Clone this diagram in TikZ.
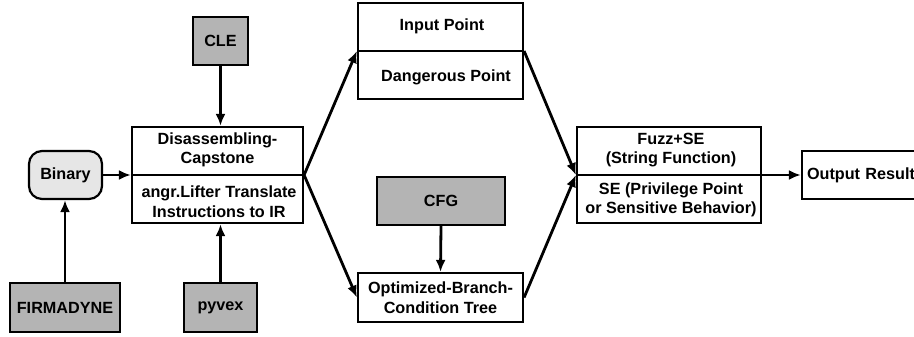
\documentclass[tikz,border=0pt]{standalone}
\usepackage{fontspec}
\setmainfont{Liberation Sans}
\usetikzlibrary{arrows.meta}
\definecolor{boxgray}{RGB}{180,180,180}
\definecolor{lightfill}{RGB}{230,230,230}
\begin{document}
\begin{tikzpicture}[x=1pt,y=-1pt,
  every node/.style={font=\fontsize{16.2}{19.5}\selectfont\bfseries, align=center, inner sep=0pt},
  plainbox/.style={draw, line width=2.2pt, fill=white},
  graybox/.style={draw, line width=2.2pt, fill=boxgray},
  txt/.style={},
  divider/.style={line width=2.2pt},
  arr/.style={line width=2.8pt, -{Latex[length=12pt,width=10pt]}}
]
\useasboundingbox (0,0) rectangle (914,337);
% boxes
\node[graybox, minimum width=55pt, minimum height=48pt] (cle) at (220.5,41) {CLE};
\node[plainbox, minimum width=171pt, minimum height=96pt] (dis) at (217.5,175) {};
\draw[divider] (dis.west) -- (dis.east);
\node[txt] (disA) at (217.5,150) {Disassembling-\\Capstone};
\node[txt] (disB) at (219,201.5) {angr.Lifter Translate\\Instructions to IR};
\node[draw, line width=2.2pt, fill=lightfill, rounded corners=13pt, minimum width=73pt, minimum height=48pt] (bin) at (65.5,175) {Binary};
\node[graybox, minimum width=110pt, minimum height=49pt] (firm) at (65,307.5) {FIRMADYNE};
\node[graybox, minimum width=73pt, minimum height=49pt] (pyvex) at (220.5,307.5) {pyvex};
\node[plainbox, minimum width=165pt, minimum height=96pt] (inp) at (440.5,51) {};
\draw[divider] (inp.west) -- (inp.east);
\node[txt] (inpA) at (442,26) {Input Point};
\node[txt] (inpB) at (446,77) {Dangerous Point};
\node[graybox, minimum width=128pt, minimum height=48pt] (cfg) at (441,201) {CFG};
\node[plainbox, minimum width=165pt, minimum height=49pt] (opt) at (440.5,297.5) {Optimized-Branch-\\Condition Tree};
\node[plainbox, minimum width=184pt, minimum height=96pt] (fuzz) at (669,175) {};
\draw[divider] (fuzz.west) -- (fuzz.east);
\node[txt] (fuzzA) at (671,150) {Fuzz+SE\\(String Function)};
\node[txt] (fuzzB) at (671,200) {SE (Privilege Point\\or Sensitive Behavior)};
\node[plainbox, minimum width=124pt, minimum height=48pt, text width=114pt, align=left] (out) at (864,175) {Output Result};
% arrows
\draw[arr] (cle.south) -- (cle.south |- dis.north);
\draw[arr] (pyvex.north) -- (pyvex.north |- dis.south);
\draw[arr] (bin.east) -- (dis.west);
\draw[arr] (firm.north) -- (firm.north |- bin.south);
\draw[arr] (dis.east) -- (inp.west);
\draw[arr] (dis.east) -- (opt.west);
\draw[arr] (cfg.south) -- (opt.north);
\draw[arr] (inp.east) -- (fuzz.west);
\draw[arr] (opt.east) -- (fuzz.west);
\draw[arr] (fuzz.east) -- (out.west);
\end{tikzpicture}
\end{document}
